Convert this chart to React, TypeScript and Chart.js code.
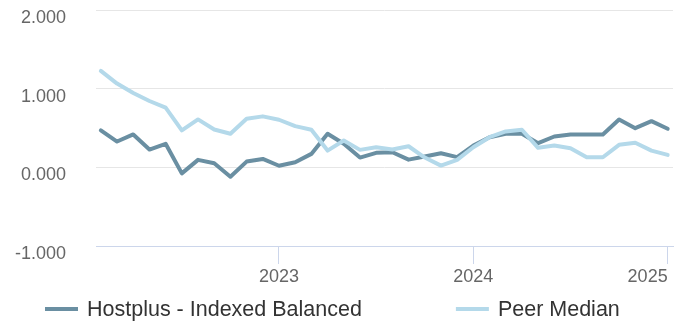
import { useEffect, useRef } from "react";
import { Chart, registerables } from "chart.js";

Chart.register(...registerables);

// Month-end observation dates
const MONTH_ENDS = [
  "2022-01", "2022-02", "2022-03", "2022-04", "2022-05", "2022-06",
  "2022-07", "2022-08", "2022-09", "2022-10", "2022-11", "2022-12",
  "2023-01", "2023-02", "2023-03", "2023-04", "2023-05", "2023-06",
  "2023-07", "2023-08", "2023-09", "2023-10", "2023-11", "2023-12",
  "2024-01", "2024-02", "2024-03", "2024-04", "2024-05", "2024-06",
  "2024-07", "2024-08", "2024-09", "2024-10", "2024-11", "2024-12",
];

const HOSTPLUS_INDEXED_BALANCED = [
  0.469, 0.328, 0.418, 0.226, 0.299, -0.077, 0.095, 0.051, -0.119, 0.073, 0.107, 0.02,
  0.064, 0.171, 0.427, 0.299, 0.124, 0.184, 0.192, 0.098, 0.137, 0.179, 0.13, 0.277,
  0.383, 0.427, 0.427, 0.307, 0.392, 0.418, 0.418, 0.418, 0.609, 0.498, 0.587, 0.49,
];

const PEER_MEDIAN = [
  1.226, 1.065, 0.945, 0.843, 0.759, 0.469, 0.609, 0.481, 0.427, 0.618, 0.648, 0.605,
  0.524, 0.478, 0.213, 0.341, 0.222, 0.255, 0.226, 0.268, 0.124, 0.022, 0.095, 0.255,
  0.383, 0.456, 0.478, 0.248, 0.277, 0.243, 0.128, 0.128, 0.286, 0.312, 0.213, 0.158,
];

const SERIES_NAMES = ["Hostplus - Indexed Balanced", "Peer Median"];
const SERIES_COLORS = ["#6a8fa2", "#b4d9ea"];

// Year labels sit on the December month-end (i.e. the turn of the year)
const YEAR_LABELS = ["2023", "2024", "2025"];

const Y_MIN = -1;
const Y_MAX = 2;
const Y_STEP = 1;

const FONT = '"Liberation Sans", Arial, Helvetica, sans-serif';

const yearTickValue = (year: string) => MONTH_ENDS.indexOf(`${Number(year) - 1}-12`);

const toPoints = (values: number[]) => values.map((y, i) => ({ x: i, y }));

// Draws a single-row legend with line swatches underneath the plot
const lineLegend = {
  id: "lineLegend",
  afterDraw(chart: any) {
    const ctx = chart.ctx as CanvasRenderingContext2D;
    ctx.save();
    ctx.font = `21.5px ${FONT}`;
    ctx.textBaseline = "middle";
    ctx.textAlign = "left";
    const y = 309;
    let x = 45;
    chart.data.datasets.forEach((ds: any) => {
      ctx.strokeStyle = ds.borderColor;
      ctx.lineWidth = 4;
      ctx.lineCap = "butt";
      ctx.beginPath();
      ctx.moveTo(x, y);
      ctx.lineTo(x + 33, y);
      ctx.stroke();
      x += 33 + 9;
      ctx.fillStyle = "#333333";
      ctx.fillText(ds.label, x, y + 1);
      x += ctx.measureText(ds.label).width + 94;
    });
    ctx.restore();
  },
};

export default function App() {
  const canvasRef = useRef<HTMLCanvasElement | null>(null);

  useEffect(() => {
    if (!canvasRef.current) return;
    const yearTicks = YEAR_LABELS.map((label) => ({ value: yearTickValue(label), label }));
    const lastIndex = MONTH_ENDS.length - 1;

    const chart = new Chart(canvasRef.current, {
      type: "line",
      data: {
        datasets: [
          {
            label: SERIES_NAMES[0],
            data: toPoints(HOSTPLUS_INDEXED_BALANCED),
            borderColor: SERIES_COLORS[0],
            backgroundColor: SERIES_COLORS[0],
            borderWidth: 4,
            pointRadius: 0,
            tension: 0,
            borderJoinStyle: "round",
            borderCapStyle: "round",
            order: 2,
          },
          {
            label: SERIES_NAMES[1],
            data: toPoints(PEER_MEDIAN),
            borderColor: SERIES_COLORS[1],
            backgroundColor: SERIES_COLORS[1],
            borderWidth: 4,
            pointRadius: 0,
            tension: 0,
            borderJoinStyle: "round",
            borderCapStyle: "round",
            order: 1,
          },
        ],
      },
      options: {
        animation: false,
        responsive: false,
        maintainAspectRatio: false,
        layout: { padding: { top: 10, right: 9, bottom: 30, left: 0 } },
        plugins: {
          legend: { display: false },
          tooltip: { enabled: false },
        },
        scales: {
          x: {
            type: "linear",
            min: -0.3,
            max: lastIndex + 0.33,
            afterBuildTicks: (scale: any) => {
              scale.ticks = [{ value: scale.min }, ...yearTicks.map((t) => ({ value: t.value }))];
            },
            afterFit: (scale: any) => {
              scale.height = 46;
              scale.paddingLeft = 0;
              scale.paddingRight = 0;
            },
            border: { display: true, color: "#ccd6eb", width: 1 },
            grid: {
              drawOnChartArea: false,
              drawTicks: true,
              tickLength: 18,
              tickWidth: 1,
              tickColor: (ctx: any) => (ctx.index === 0 ? "rgba(0,0,0,0)" : "#ccd6eb"),
            },
            ticks: {
              autoSkip: false,
              maxRotation: 0,
              align: "inner",
              padding: 2,
              color: "#666666",
              font: { family: FONT, size: 18 },
              callback: (value: any) => {
                const t = yearTicks.find((yt) => yt.value === value);
                return t ? t.label : "";
              },
            },
          },
          y: {
            type: "linear",
            min: Y_MIN,
            max: Y_MAX,
            afterFit: (scale: any) => {
              scale.width = 96;
              scale.paddingTop = 0;
              scale.paddingBottom = 0;
            },
            border: { display: false },
            grid: {
              drawTicks: false,
              color: (ctx: any) => (ctx.tick && ctx.tick.value === Y_MIN ? "rgba(0,0,0,0)" : "#e6e6e6"),
              lineWidth: 1,
            },
            ticks: {
              stepSize: Y_STEP,
              padding: 30,
              labelOffset: 8,
              color: "#666666",
              font: { family: FONT, size: 18 },
              callback: (value: any) => Number(value).toFixed(3),
            },
          },
        },
      },
      plugins: [lineLegend],
    });

    return () => chart.destroy();
  }, []);

  return (
    <div style={{ position: "fixed", left: 0, top: 0, width: 682, height: 322, background: "#ffffff" }}>
      <canvas ref={canvasRef} width={682} height={322} />
    </div>
  );
}
